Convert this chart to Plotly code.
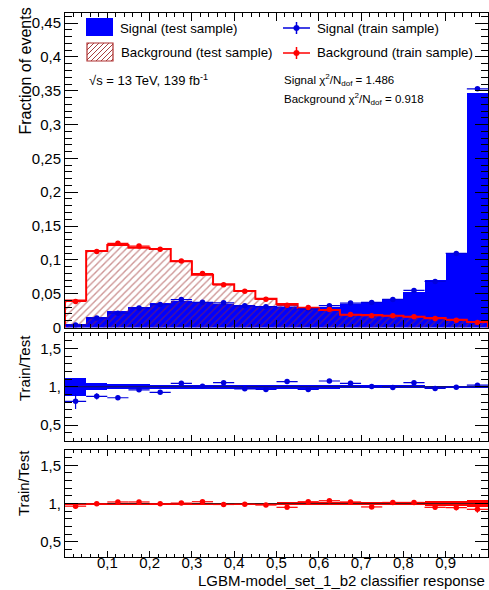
import plotly.graph_objects as go

# ---------------- data ----------------
bin_centers = [0.025, 0.075, 0.125, 0.175, 0.225, 0.275, 0.325, 0.375, 0.425, 0.475,
               0.525, 0.575, 0.625, 0.675, 0.725, 0.775, 0.825, 0.875, 0.925, 0.975]
bin_width = 0.05

sig_test = [0.0045, 0.016, 0.0247, 0.030, 0.0366, 0.0396, 0.037, 0.0346, 0.033, 0.032,
            0.030, 0.0287, 0.030, 0.0346, 0.037, 0.042, 0.052, 0.0697, 0.110, 0.346]
bkg_test = [0.040, 0.113, 0.122, 0.118, 0.116, 0.098, 0.078, 0.064, 0.054, 0.0425,
            0.0346, 0.029, 0.0257, 0.0188, 0.0183, 0.0173, 0.0158, 0.0139, 0.0114, 0.008]

sig_ratio = [0.81, 0.875, 0.857, 0.96, 0.928, 1.044, 1.008, 1.053, 0.973, 0.964,
             1.067, 0.964, 1.075, 1.044, 1.004, 0.99, 1.053, 0.977, 0.995, 1.02]
sig_ratio_err = [0.10, 0.04, 0.03, 0.025, 0.022, 0.02, 0.02, 0.02, 0.02, 0.02,
                 0.025, 0.02, 0.025, 0.02, 0.015, 0.015, 0.015, 0.012, 0.01, 0.008]
bkg_ratio = [0.965, 0.996, 1.02, 1.02, 0.996, 1.005, 1.023, 0.987, 0.99, 0.98,
             0.95, 1.023, 1.036, 1.02, 0.955, 1.014, 1.014, 0.95, 0.946, 0.924]
bkg_ratio_err = [0.012, 0.008, 0.008, 0.008, 0.008, 0.008, 0.01, 0.01, 0.012, 0.012,
                 0.015, 0.015, 0.018, 0.02, 0.02, 0.022, 0.025, 0.03, 0.035, 0.045]

sig_band = [0.12, 0.045, 0.035, 0.03, 0.028, 0.025, 0.025, 0.025, 0.025, 0.025,
            0.025, 0.025, 0.025, 0.022, 0.02, 0.02, 0.018, 0.015, 0.012, 0.01]
bkg_band = [0.012, 0.008, 0.008, 0.008, 0.008, 0.008, 0.01, 0.01, 0.012, 0.012,
            0.015, 0.015, 0.018, 0.02, 0.02, 0.022, 0.025, 0.03, 0.035, 0.045]

x_tick_vals = [0.1, 0.2, 0.3, 0.4, 0.5, 0.6, 0.7, 0.8, 0.9]
x_tick_text = ["0,1", "0,2", "0,3", "0,4", "0,5", "0,6", "0,7", "0,8", "0,9"]
y_main_vals = [0, 0.05, 0.1, 0.15, 0.2, 0.25, 0.3, 0.35, 0.4, 0.45]
y_main_text = ["0", "0,05", "0,1", "0,15", "0,2", "0,25", "0,3", "0,35", "0,4", "0,45"]
ratio_vals = [0.5, 1.0, 1.5]
ratio_text = ["0,5", "1,", "1,5"]

legend_labels = ["Signal (test sample)", "Background (test sample)",
                 "Signal (train sample)", "Background (train sample)"]

# ---------------- derived ----------------
sig_train = [t * r for t, r in zip(sig_test, sig_ratio)]
bkg_train = [t * r for t, r in zip(bkg_test, bkg_ratio)]
sig_train_err = [t * e for t, e in zip(sig_test, sig_ratio_err)]
bkg_train_err = [t * e for t, e in zip(bkg_test, bkg_ratio_err)]
half = [bin_width / 2] * len(bin_centers)
edges = [c - bin_width / 2 for c in bin_centers] + [bin_centers[-1] + bin_width / 2]

BLUE = "#0000ff"
BLUE_PT = "#0000dd"
RED = "#ff0000"
HATCH = "#9a2a2a"
FONT = "Liberation Sans, Arial, sans-serif"

W, H = 489, 590
ML, MR, MT, MB = 65, 1, 13, 33
PW, PH = W - ML - MR, H - MT - MB


def px(x):
    return (x - ML) / PW


def py(y):
    return (H - MB - y) / PH


fig = go.Figure()

# main panel
fig.add_trace(go.Bar(x=bin_centers, y=sig_test, width=bin_width,
                     marker=dict(color=BLUE, line=dict(width=0)),
                     xaxis="x", yaxis="y", showlegend=False))
fig.add_trace(go.Bar(x=bin_centers, y=bkg_test, width=bin_width,
                     marker=dict(color="rgba(0,0,0,0)", line=dict(width=0),
                                 pattern=dict(shape="/", fgcolor=HATCH,
                                              bgcolor="rgba(0,0,0,0)",
                                              size=5, solidity=0.28)),
                     xaxis="x", yaxis="y", showlegend=False))
fig.add_trace(go.Scatter(x=[edges[0]] + edges + [edges[-1]],
                         y=[0] + bkg_test + [bkg_test[-1], 0],
                         mode="lines", line=dict(color=RED, width=2, shape="hv"),
                         xaxis="x", yaxis="y", showlegend=False))
fig.add_trace(go.Scatter(x=bin_centers, y=sig_train, mode="markers",
                         marker=dict(color=BLUE_PT, size=5.5),
                         error_x=dict(type="data", array=half, color=BLUE_PT, thickness=1.2, width=0),
                         error_y=dict(type="data", array=sig_train_err, color=BLUE_PT, thickness=1.2, width=0),
                         xaxis="x", yaxis="y", showlegend=False))
fig.add_trace(go.Scatter(x=bin_centers, y=bkg_train, mode="markers",
                         marker=dict(color=RED, size=5.5),
                         error_x=dict(type="data", array=half, color=RED, thickness=1.2, width=0),
                         error_y=dict(type="data", array=bkg_train_err, color=RED, thickness=1.2, width=0),
                         xaxis="x", yaxis="y", showlegend=False))

# signal ratio panel
fig.add_trace(go.Bar(x=bin_centers, y=[2 * e for e in sig_band],
                     base=[1 - e for e in sig_band], width=bin_width,
                     marker=dict(color=BLUE, line=dict(width=0)),
                     xaxis="x2", yaxis="y2", showlegend=False))
fig.add_trace(go.Scatter(x=[0, 1], y=[1, 1], mode="lines",
                         line=dict(color="#202020", width=0.8),
                         xaxis="x2", yaxis="y2", showlegend=False))
fig.add_trace(go.Scatter(x=bin_centers, y=sig_ratio, mode="markers",
                         marker=dict(color=BLUE_PT, size=5.5),
                         error_x=dict(type="data", array=half, color=BLUE_PT, thickness=1.2, width=0),
                         error_y=dict(type="data", array=sig_ratio_err, color=BLUE_PT, thickness=1.2, width=0),
                         xaxis="x2", yaxis="y2", showlegend=False))

# background ratio panel
fig.add_trace(go.Bar(x=bin_centers, y=[2 * e for e in bkg_band],
                     base=[1 - e for e in bkg_band], width=bin_width,
                     marker=dict(color=RED, line=dict(width=0)),
                     xaxis="x3", yaxis="y3", showlegend=False))
fig.add_trace(go.Scatter(x=[0, 1], y=[1, 1], mode="lines",
                         line=dict(color="#202020", width=0.8),
                         xaxis="x3", yaxis="y3", showlegend=False))
fig.add_trace(go.Scatter(x=bin_centers, y=bkg_ratio, mode="markers",
                         marker=dict(color=RED, size=5.5),
                         error_x=dict(type="data", array=half, color=RED, thickness=1.2, width=0),
                         error_y=dict(type="data", array=bkg_ratio_err, color=RED, thickness=1.2, width=0),
                         xaxis="x3", yaxis="y3", showlegend=False))

tickfont = dict(family=FONT, size=15, color="black")


def xax(anchor, labels, ticklen, minorlen):
    return dict(domain=[0, 1], anchor=anchor, range=[0, 1],
                tickmode="array", tickvals=x_tick_vals, ticktext=x_tick_text,
                showticklabels=labels, tickfont=tickfont, ticklabelstandoff=-8,
                ticks="inside", ticklen=ticklen, tickwidth=1, tickcolor="black",
                minor=dict(tickmode="linear", tick0=0, dtick=0.02, ticks="inside",
                           ticklen=minorlen, tickwidth=1, tickcolor="black"),
                showline=True, linecolor="black", linewidth=1, mirror="allticks",
                showgrid=False, zeroline=False, fixedrange=True)


def yax(anchor, domain, rng, vals, text, dminor):
    return dict(domain=domain, anchor=anchor, range=rng,
                tickmode="array", tickvals=vals, ticktext=text, tickfont=tickfont,
                ticks="inside", ticklen=13, tickwidth=1, tickcolor="black",
                minor=dict(tickmode="linear", tick0=0, dtick=dminor, ticks="inside",
                           ticklen=7, tickwidth=1, tickcolor="black"),
                showline=True, linecolor="black", linewidth=1, mirror="allticks",
                showgrid=False, zeroline=False, fixedrange=True)


fig.update_layout(
    width=W, height=H,
    margin=dict(l=ML, r=MR, t=MT, b=MB, pad=0),
    paper_bgcolor="white", plot_bgcolor="white",
    barmode="overlay", bargap=0,
    font=dict(family=FONT, color="black"),
    xaxis=xax("y", False, 8, 4),
    yaxis=yax("x", [py(327.5), 1], [0, 0.465], y_main_vals, y_main_text, 0.01),
    xaxis2=xax("y2", False, 6, 3),
    yaxis2=yax("x2", [py(440.5), py(333)], [0.3, 1.7], ratio_vals, ratio_text, 0.1),
    xaxis3=xax("y3", True, 6, 3),
    yaxis3=yax("x3", [0, py(450)], [0.3, 1.7], ratio_vals, ratio_text, 0.1),
)

shapes = []
annotations = []

# legend: signal test box
shapes.append(dict(type="rect", xref="paper", yref="paper",
                   x0=px(86), x1=px(113), y0=py(36), y1=py(18),
                   fillcolor=BLUE, line=dict(width=0)))
# legend: background test hatched box
hx0, hx1, hy0, hy1 = 87, 113, 43, 61
k = hx0 + hy0 + 2
while k < hx1 + hy1:
    xa = max(hx0, k - hy1)
    xb = min(hx1, k - hy0)
    if xb > xa:
        shapes.append(dict(type="line", xref="paper", yref="paper",
                           x0=px(xa), y0=py(k - xa), x1=px(xb), y1=py(k - xb),
                           line=dict(color=HATCH, width=0.9)))
    k += 5
shapes.append(dict(type="rect", xref="paper", yref="paper",
                   x0=px(hx0), x1=px(hx1), y0=py(hy1), y1=py(hy0),
                   line=dict(color="#b03030", width=1.2)))

# legend: train markers
for yc, col in ((28, BLUE_PT), (53, RED)):
    shapes.append(dict(type="line", xref="paper", yref="paper",
                       x0=px(283), x1=px(310), y0=py(yc), y1=py(yc),
                       line=dict(color=col, width=1.5)))
    shapes.append(dict(type="line", xref="paper", yref="paper",
                       x0=px(296.5), x1=px(296.5), y0=py(yc - 6), y1=py(yc + 6),
                       line=dict(color=col, width=1.5)))
    shapes.append(dict(type="circle", xref="paper", yref="paper",
                       x0=px(293.7), x1=px(299.3), y0=py(yc + 2.8), y1=py(yc - 2.8),
                       fillcolor=col, line=dict(color=col, width=0.5)))

legend_font = dict(family=FONT, size=13.3, color="black")
for (x, y), label in zip(((118, 28), (118.5, 53), (315, 28), (315, 53)), legend_labels):
    annotations.append(dict(text=label, x=px(x), y=py(y), xref="paper", yref="paper",
                            xanchor="left", yanchor="middle", showarrow=False,
                            font=legend_font))

annotations.append(dict(text="√s = 13 TeV, 139 fb<sup>-1</sup>", x=px(87), y=py(80),
                        xref="paper", yref="paper", xanchor="left", yanchor="middle",
                        showarrow=False, font=dict(family=FONT, size=13, color="black")))
annotations.append(dict(text="Signal χ<sup>2</sup>/N<sub>dof</sub> = 1.486", x=px(282), y=py(80),
                        xref="paper", yref="paper", xanchor="left", yanchor="middle",
                        showarrow=False, font=dict(family=FONT, size=11.5, color="black")))
annotations.append(dict(text="Background χ<sup>2</sup>/N<sub>dof</sub> = 0.918", x=px(282), y=py(99),
                        xref="paper", yref="paper", xanchor="left", yanchor="middle",
                        showarrow=False, font=dict(family=FONT, size=11.5, color="black")))

# axis titles
annotations.append(dict(text="Fraction of events", x=px(25), y=py(6), xref="paper", yref="paper",
                        xanchor="center", yanchor="top", textangle=-90, showarrow=False,
                        font=dict(family=FONT, size=16, color="black")))
annotations.append(dict(text="Train/Test", x=px(24), y=py(333), xref="paper", yref="paper",
                        xanchor="center", yanchor="top", textangle=-90, showarrow=False,
                        font=dict(family=FONT, size=15, color="black")))
annotations.append(dict(text="Train/Test", x=px(24), y=py(448), xref="paper", yref="paper",
                        xanchor="center", yanchor="top", textangle=-90, showarrow=False,
                        font=dict(family=FONT, size=15, color="black")))
annotations.append(dict(text="LGBM-model_set_1_b2 classifier response", x=px(487), y=py(580),
                        xref="paper", yref="paper", xanchor="right", yanchor="middle",
                        showarrow=False, font=dict(family=FONT, size=15, color="black")))

fig.update_layout(shapes=shapes, annotations=annotations)

fig.write_html("out.html", config=dict(displayModeBar=False),
               post_script="document.body.style.margin='0';document.body.style.overflow='hidden';")
